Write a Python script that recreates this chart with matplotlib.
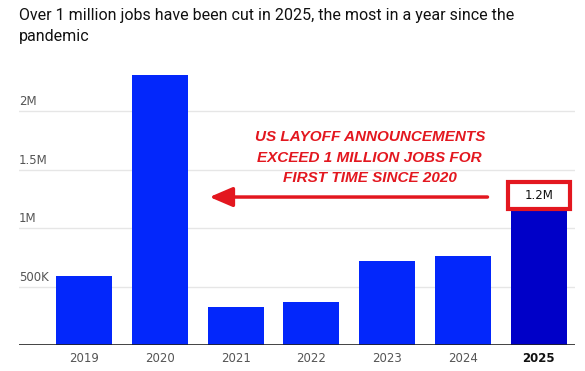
import matplotlib.pyplot as plt
from matplotlib.patches import Rectangle

years = ['2019', '2020', '2021', '2022', '2023', '2024', '2025']
layoffs = [592556, 2304755, 321970, 363832, 721677, 761358, 1170821]
tick_vals = [500000, 1000000, 1500000, 2000000]
tick_labels = ['500K', '1M', '1.5M', '2M']

blue = '#0327fb'
dark_blue = '#0000c8'
red = '#e3171f'

fig = plt.figure(figsize=(5.85, 3.71), dpi=100)
ax = fig.add_axes([19 / 585, 1 - 345 / 371, 556 / 585, 286 / 371])

x = range(len(years))
colors = [blue] * (len(years) - 1) + [dark_blue]
ax.bar(x, layoffs, width=0.74, color=colors, zorder=3)

ax.set_xlim(-0.857, 6.478)
ax.set_ylim(0, 2.445e6)

# gridlines with labels sitting above them
for v, lab in zip(tick_vals, tick_labels):
    ax.axhline(v, color='#e6e6e6', lw=1, zorder=1)
    ax.text(0, v + 25000, lab, transform=ax.get_yaxis_transform(),
            ha='left', va='bottom', fontsize=8.5, color='#555555')
ax.axhline(0, color='#222222', lw=1.2, zorder=4)

ax.set_yticks([])
ax.set_xticks(list(x))
ax.set_xticklabels(years, fontsize=8.5, color='#555555')
ax.get_xticklabels()[-1].set_fontweight('bold')
ax.get_xticklabels()[-1].set_color('#111111')
ax.tick_params(axis='x', length=0, pad=5)
for s in ax.spines.values():
    s.set_visible(False)

fig.text(19 / 585, 1 - 8 / 371,
         'Over 1 million jobs have been cut in 2025, the most in a year since the\npandemic',
         ha='left', va='top', fontsize=11.5, color='#111111', family='Roboto',
         linespacing=1.5)

# annotation
ax.text(3.77, 1.60e6, 'US LAYOFF ANNOUNCEMENTS\nEXCEED 1 MILLION JOBS FOR\nFIRST TIME SINCE 2020',
        ha='center', va='center', fontsize=11, color=red, fontweight='bold',
        fontstyle='italic', family='Liberation Sans', linespacing=1.6)
ax.annotate('', xy=(1.62, 1.265e6), xytext=(5.36, 1.265e6),
            arrowprops=dict(arrowstyle='-|>,head_length=1.4,head_width=0.6',
                            color=red, lw=2.5))
ax.add_patch(Rectangle((5.594, 1.162e6), 0.816, 0.231e6, facecolor='white',
                       edgecolor=red, lw=3, zorder=5))
ax.text(6.0, 1.275e6, '1.2M', ha='center', va='center', fontsize=8.5,
        color='#111111', zorder=6)

fig.savefig('out.png', dpi=100)
